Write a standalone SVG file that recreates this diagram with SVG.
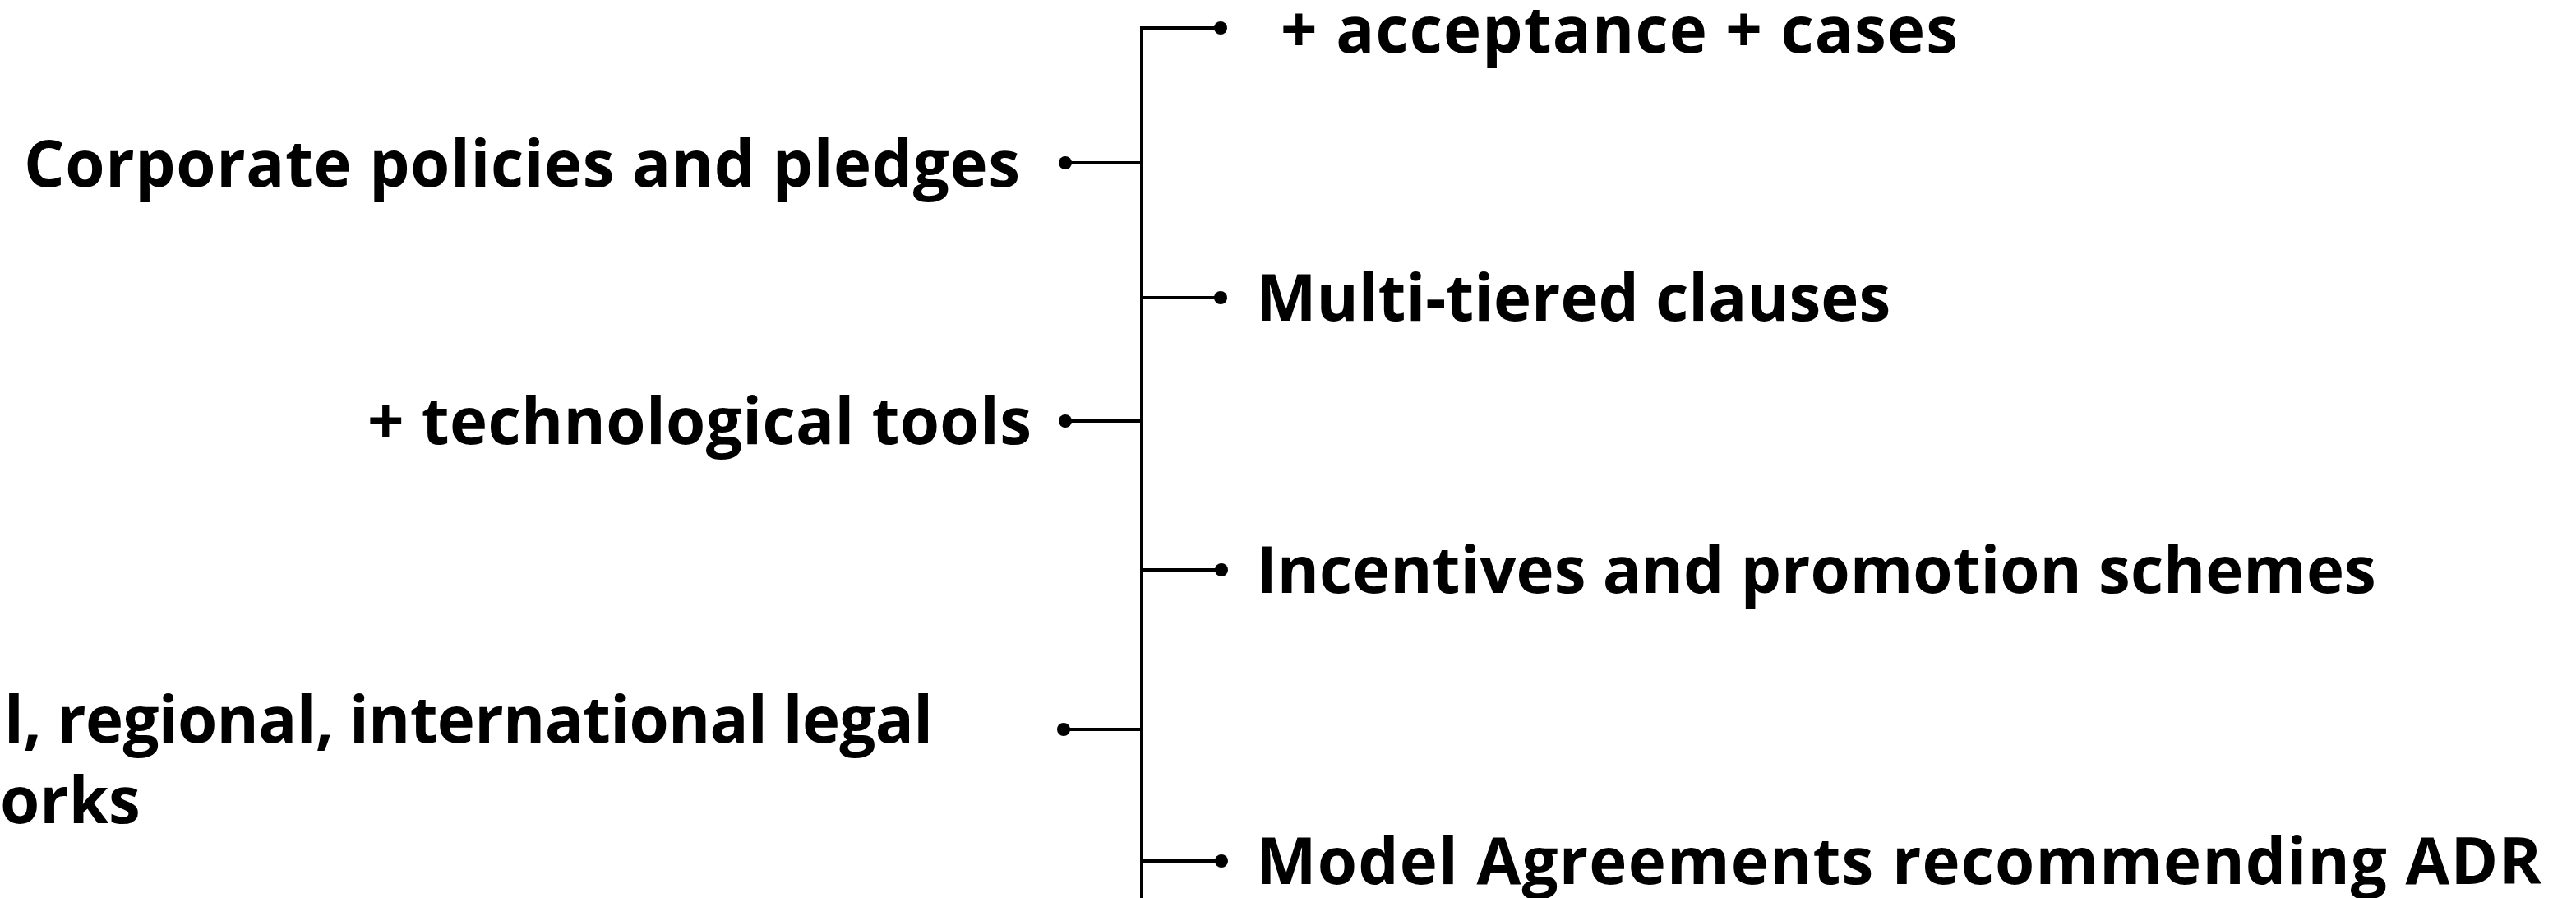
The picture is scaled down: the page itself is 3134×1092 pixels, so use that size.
<svg xmlns="http://www.w3.org/2000/svg" width="3134" height="1092" viewBox="0 0 3134 1092">
<style>
  .t { font-family: "Open Sans", "Noto Sans", "Liberation Sans", sans-serif; font-weight: 700; font-size: 78px; fill: #000; }
  .l { text-anchor: end; }
  .c { stroke: #000; stroke-width: 4; fill: none; }
  .d { fill: #000; }
</style>
<rect width="3134" height="1092" fill="#fff"/>
<g id="connectors">
  <path class="c" d="M1389 1092 V34 H1485"/>
  <path class="c" d="M1389 362 H1485"/>
  <path class="c" d="M1389 693 H1485"/>
  <path class="c" d="M1389 1047 H1485"/>
  <path class="c" d="M1389 198 H1296"/>
  <path class="c" d="M1389 512 H1296"/>
  <path class="c" d="M1389 887 H1294"/>
  <circle class="d" cx="1485" cy="34" r="8"/>
  <circle class="d" cx="1485" cy="362" r="8"/>
  <circle class="d" cx="1486" cy="693" r="8"/>
  <circle class="d" cx="1486" cy="1047" r="8"/>
  <circle class="d" cx="1296" cy="198" r="8"/>
  <circle class="d" cx="1296" cy="512" r="8"/>
  <circle class="d" cx="1294" cy="887" r="8"/>
</g>
<g id="node-acceptance"><text class="t" x="1558" y="64" textLength="824" lengthAdjust="spacing">+ acceptance + cases</text></g>
<g id="node-multitiered"><text class="t" x="1528" y="390">Multi-tiered clauses</text></g>
<g id="node-incentives"><text class="t" x="1528" y="721">Incentives and promotion schemes</text></g>
<g id="node-model"><text class="t" x="1528" y="1075" textLength="1564" lengthAdjust="spacing">Model Agreements recommending ADR</text></g>
<g id="node-corporate"><text class="t l" x="1241" y="227" textLength="1212" lengthAdjust="spacing">Corporate policies and pledges</text></g>
<g id="node-tech"><text class="t l" x="1255" y="540" textLength="808" lengthAdjust="spacing">+ technological tools</text></g>
<g id="node-legal"><text class="t" x="5" y="903" textLength="1130" lengthAdjust="spacing">l, regional, international legal</text><text class="t" x="0" y="1001">orks</text></g>
</svg>
